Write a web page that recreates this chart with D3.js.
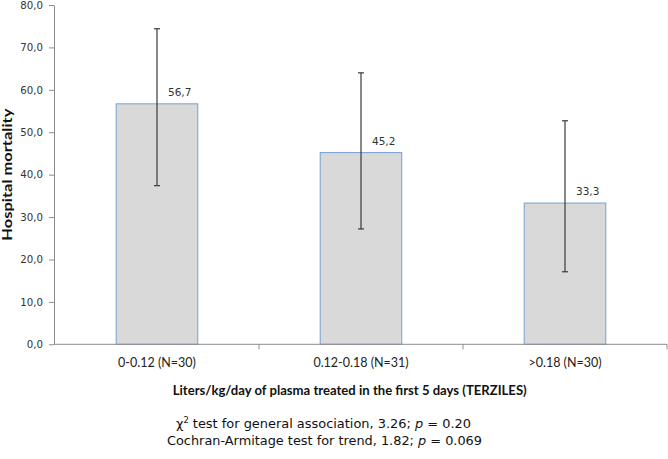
<!DOCTYPE html>
<html><head><meta charset="utf-8">
<script src="https://cdn.jsdelivr.net/npm/d3@7"></script>
<style>
body{margin:0;background:#fff;}
svg{display:block;}
</style></head>
<body>
<svg id="chart" width="668" height="459"></svg>
<script>
const categories = ["0-0.12 (N=30)", "0.12-0.18 (N=31)", ">0.18 (N=30)"];
const values = [56.7, 45.2, 33.3];
const errLow = [37.4, 27.2, 17.1];
const errHigh = [74.4, 64.0, 52.7];
const valueLabels = ["56,7", "45,2", "33,3"];
const yTicks = [0, 10, 20, 30, 40, 50, 60, 70, 80];
const yTitle = "Hospital mortality";
const xTitle = "Liters/kg/day of plasma treated in the first 5 days (TERZILES)";

const svg = d3.select("#chart");
const mLeft = 55, mRight = 667, mTop = 5, mBottom = 344.3;

const x = d3.scaleBand().domain(categories).range([mLeft, mRight]).paddingInner(0.6).paddingOuter(0.3);
const xBand = d3.scaleBand().domain(categories).range([mLeft, mRight]);
const y = d3.scaleLinear().domain([0, 80]).range([mBottom, mTop]);

const fmt = d => d.toFixed(1).replace(".", ",");
const axisColor = "#8c8c8c";

// y axis
const yAxis = svg.append("g").attr("transform", `translate(${mLeft - 1},0)`)
  .call(d3.axisLeft(y).tickValues(yTicks).tickFormat(fmt).tickSize(5).tickSizeOuter(0));
yAxis.select(".domain").attr("stroke", axisColor);
yAxis.selectAll(".tick line").attr("stroke", axisColor);
yAxis.selectAll(".tick text").attr("font-family", "DejaVu Sans").attr("font-size", 10.2).attr("fill", "#333").attr("x", -11);

// bars
svg.append("g").selectAll("rect").data(categories).join("rect")
  .attr("x", d => x(d)).attr("width", x.bandwidth())
  .attr("y", (d, i) => y(values[i])).attr("height", (d, i) => y(0) - y(values[i]))
  .attr("fill", "#d9d9d9").attr("stroke", "#76a0cc").attr("stroke-width", 1);

// x axis
const xAxisG = svg.append("g").attr("transform", `translate(0,${mBottom})`);
xAxisG.append("line").attr("x1", mLeft - 1).attr("x2", mRight).attr("y1", 0).attr("y2", 0).attr("stroke", axisColor);
const boundaries = categories.map(c => xBand(c)).concat([mRight]);
xAxisG.selectAll("line.tk").data(boundaries.slice(1)).join("line").attr("class", "tk")
  .attr("x1", d => d).attr("x2", d => d).attr("y1", 0).attr("y2", 5).attr("stroke", axisColor);
xAxisG.selectAll("text").data(categories).join("text")
  .attr("x", d => xBand(d) + xBand.bandwidth() / 2).attr("y", 23)
  .attr("text-anchor", "middle").attr("font-family", "Lato").attr("font-size", 12.5).attr("fill", "#222")
  .text(d => d);

// error bars
const eb = svg.append("g").attr("stroke", "#3a3a3a").attr("stroke-width", 1.2);
categories.forEach((c, i) => {
  const cx = x(c) + x.bandwidth() / 2;
  eb.append("line").attr("x1", cx).attr("x2", cx).attr("y1", y(errLow[i])).attr("y2", y(errHigh[i]));
  eb.append("line").attr("x1", cx - 3).attr("x2", cx + 3).attr("y1", y(errLow[i])).attr("y2", y(errLow[i]));
  eb.append("line").attr("x1", cx - 3).attr("x2", cx + 3).attr("y1", y(errHigh[i])).attr("y2", y(errHigh[i]));
});

// value labels
svg.append("g").selectAll("text").data(categories).join("text")
  .attr("x", d => x(d) + x.bandwidth() / 2 + 11)
  .attr("y", (d, i) => y(values[i]) - 8)
  .attr("font-family", "DejaVu Sans").attr("font-size", 10.5).attr("fill", "#333")
  .text((d, i) => valueLabels[i]);

// y title
svg.append("text").attr("transform", `translate(12,${(mTop + mBottom) / 2}) rotate(-90)`)
  .attr("text-anchor", "middle").attr("font-family", "Lato").attr("font-weight", "bold").attr("font-size", 13.5)
  .attr("textLength", 132).attr("lengthAdjust", "spacingAndGlyphs")
  .attr("fill", "#111").text(yTitle);

// x title
svg.append("text").attr("x", 349.7).attr("y", 395).attr("text-anchor", "middle")
  .attr("font-family", "Lato").attr("font-weight", "bold").attr("font-size", 13)
  .attr("textLength", 354).attr("lengthAdjust", "spacingAndGlyphs")
  .attr("fill", "#111").text(xTitle);

// stats
const s1 = svg.append("text").attr("x", 323.5).attr("y", 428).attr("text-anchor", "middle")
  .attr("font-family", "DejaVu Sans").attr("font-size", 12.5).attr("fill", "#111")
  .attr("textLength", 295).attr("lengthAdjust", "spacingAndGlyphs");
s1.append("tspan").text("χ");
s1.append("tspan").attr("dy", -5).attr("font-size", 8).text("2");
s1.append("tspan").attr("dy", 5).text(" test for general association, 3.26; ");
s1.append("tspan").attr("font-style", "italic").text("p");
s1.append("tspan").text(" = 0.20");
const s2 = svg.append("text").attr("x", 324.5).attr("y", 445).attr("text-anchor", "middle")
  .attr("font-family", "DejaVu Sans").attr("font-size", 12.5).attr("fill", "#111")
  .attr("textLength", 315).attr("lengthAdjust", "spacingAndGlyphs");
s2.append("tspan").text("Cochran-Armitage test for trend, 1.82; ");
s2.append("tspan").attr("font-style", "italic").text("p");
s2.append("tspan").text(" = 0.069");
</script>
</body></html>
